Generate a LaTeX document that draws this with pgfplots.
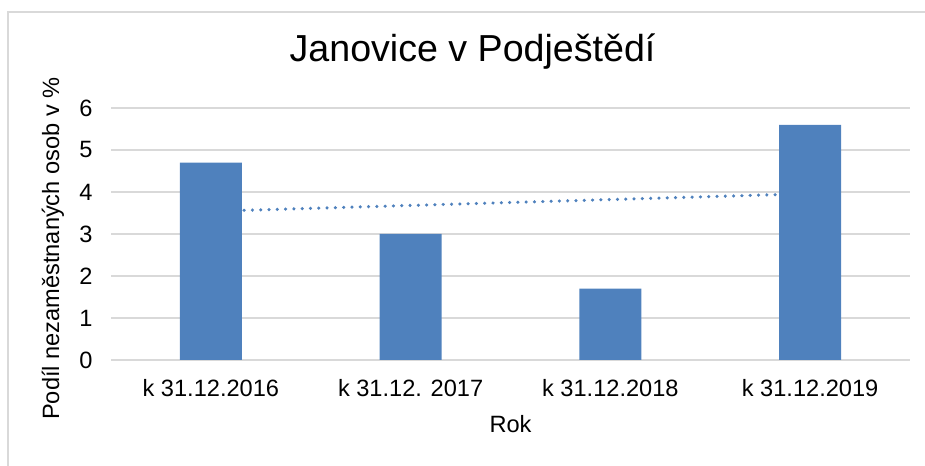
\documentclass[border=0pt]{standalone}
\usepackage{pgfplots}
\pgfplotsset{compat=1.18}
\usepackage{fontspec}
\setmainfont{Liberation Sans}
\definecolor{barblue}{HTML}{4F81BD}
\definecolor{gridgray}{HTML}{D9D9D9}
\begin{document}
\begin{tikzpicture}[x=1bp,y=1bp]
\useasboundingbox (0,0) rectangle (925,466);
\draw[gridgray, line width=1.5bp] (8,0) -- (8,454) -- (925,454);
\begin{axis}[
  at={(111bp,106bp)}, anchor=south west,
  width=799bp, height=252bp, scale only axis,
  xmin=-0.5, xmax=3.5, ymin=0, ymax=6,
  xtick={0,1,2,3},
  xticklabels={k 31.12.2016,k 31.12. 2017,k 31.12.2018,k 31.12.2019},
  ytick={0,1,2,3,4,5,6},
  axis line style={draw=none},
  major tick length=0pt,
  ymajorgrids, major grid style={gridgray, line width=1.3bp},
  /pgf/number format/assume math mode=true,
  tick label style={font=\fontsize{23.6bp}{28bp}\selectfont},
  xticklabel style={anchor=base, yshift=-37bp},
  yticklabel style={anchor=east, xshift=-15bp},
  title={Janovice v Podještědí},
  title style={font=\fontsize{37.6bp}{44bp}\selectfont, at={(axis description cs:0.4525,1.159)}, anchor=base},
  xlabel={Rok},
  xlabel style={font=\fontsize{23.6bp}{28bp}\selectfont, at={(axis description cs:0.5,-0.2897)}, anchor=base},
  ylabel={Podíl nezaměstnaných osob v \%},
  ylabel style={font=\fontsize{23.6bp}{28bp}\selectfont, at={(axis description cs:-0.0728,0.442)}, anchor=center},
  clip=false,
]
\addplot[barblue, line width=3.4bp, line cap=round, dash pattern=on 0.1bp off 8.2bp] coordinates {(0,3.54) (3,3.96)};
\addplot[ybar, bar width=0.31, fill=barblue, draw=none] coordinates {(0,4.7) (1,3.0) (2,1.7) (3,5.6)};
\end{axis}
\end{tikzpicture}
\end{document}
